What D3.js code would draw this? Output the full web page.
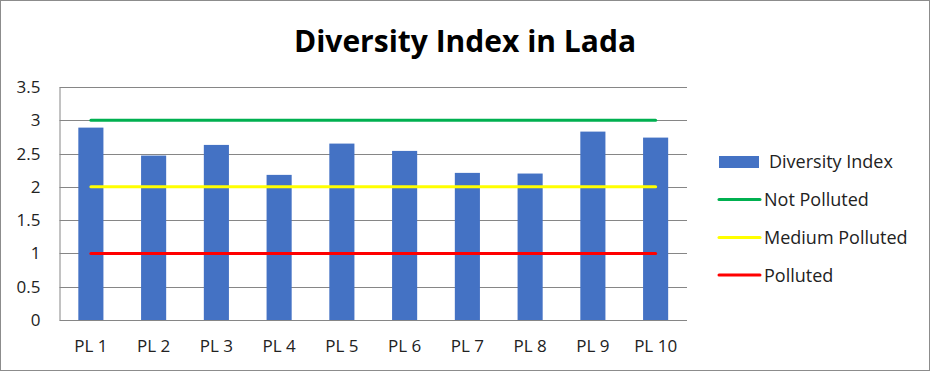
<!DOCTYPE html>
<html>
<head>
<meta charset="utf-8">
<script src="https://cdn.jsdelivr.net/npm/d3@7"></script>
<style>
  html, body { margin: 0; padding: 0; background: #fff; }
  svg { display: block; font-family: "Open Sans", "Noto Sans", sans-serif; }
</style>
</head>
<body>
<svg id="chart" width="932" height="373"></svg>
<script>
// Data
const sites = ['PL 1', 'PL 2', 'PL 3', 'PL 4', 'PL 5', 'PL 6', 'PL 7', 'PL 8', 'PL 9', 'PL 10']
const diversity = [2.89, 2.47, 2.63, 2.18, 2.65, 2.54, 2.21, 2.20, 2.83, 2.74]
const thresholdNames = ['Not Polluted', 'Medium Polluted', 'Polluted']
const thresholdValues = [3, 2, 1]
const thresholdColors = ['#00b050', '#ffff00', '#ff0000']
const yTicks = [0, 0.5, 1, 1.5, 2, 2.5, 3, 3.5]

const W = 932, H = 373
const plot = { left: 59.5, right: 687, top: 87, bottom: 320 }
const BAR_COLOR = '#4472c4'
const GRID = '#868686'

const svg = d3.select('#chart')

// Outer frame
svg.append('rect')
    .attr('x', 0.5).attr('y', 0.5)
    .attr('width', 929).attr('height', 370)
    .attr('fill', '#fff')
    .attr('stroke', '#8c8c8c')
    .attr('stroke-width', 1)

const x = d3.scaleBand()
    .domain(sites)
    .range([plot.left, plot.right])
    .paddingInner(0.6)
    .paddingOuter(0.3)

const y = d3.scaleLinear()
    .domain([0, 3.5])
    .range([plot.bottom, plot.top])

// Title
svg.append('text')
    .attr('x', 465)
    .attr('y', 52)
    .attr('text-anchor', 'middle')
    .style('font-size', '30px')
    .style('font-weight', 'bold')
    .style('fill', '#000')
    .text('Diversity Index in Lada')

// Gridlines
svg.append('g')
    .selectAll('line')
    .data(yTicks)
    .join('line')
    .attr('x1', plot.left)
    .attr('x2', plot.right)
    .attr('y1', d => Math.round(y(d)) + 0.5)
    .attr('y2', d => Math.round(y(d)) + 0.5)
    .attr('stroke', GRID)
    .attr('stroke-width', 1)

// Y axis
const yAxis = svg.append('g')
    .attr('transform', `translate(${plot.left},0)`)
    .call(d3.axisLeft(y).tickValues(yTicks).tickSize(0).tickPadding(19).tickFormat(d3.format('')))
yAxis.select('.domain').attr('stroke', GRID)
yAxis.selectAll('text')
    .style('font-size', '17px')
    .style('font-family', '"Open Sans", "Noto Sans", sans-serif')
    .style('fill', '#222')

// Bars
svg.append('g')
    .selectAll('rect')
    .data(diversity)
    .join('rect')
    .attr('x', (d, i) => x(sites[i]))
    .attr('y', d => y(d))
    .attr('width', x.bandwidth())
    .attr('height', d => y(0) - y(d))
    .attr('fill', BAR_COLOR)

// Threshold lines: from first to last category center
const xc = s => x(s) + x.bandwidth() / 2
svg.append('g')
    .selectAll('line')
    .data(thresholdValues)
    .join('line')
    .attr('x1', xc(sites[0]))
    .attr('x2', xc(sites[sites.length - 1]))
    .attr('y1', d => y(d))
    .attr('y2', d => y(d))
    .attr('stroke', (d, i) => thresholdColors[i])
    .attr('stroke-width', 3)
    .attr('stroke-linecap', 'round')

// X axis labels
const xAxis = svg.append('g')
    .attr('transform', `translate(0,${plot.bottom})`)
    .call(d3.axisBottom(x).tickSize(0).tickPadding(20))
xAxis.select('.domain').remove()
xAxis.selectAll('text')
    .style('font-size', '17px')
    .style('font-family', '"Open Sans", "Noto Sans", sans-serif')
    .style('fill', '#222')

// Legend
const legend = svg.append('g')
legend.append('rect')
    .attr('x', 719).attr('y', 156)
    .attr('width', 40).attr('height', 12)
    .attr('fill', BAR_COLOR)
legend.append('text')
    .attr('x', 769).attr('y', 168)
    .style('font-size', '18px')
    .style('fill', '#222')
    .text('Diversity Index')

const legendY = [199.5, 237.5, 275]
thresholdNames.forEach((name, i) => {
    legend.append('line')
        .attr('x1', 719).attr('x2', 760)
        .attr('y1', legendY[i]).attr('y2', legendY[i])
        .attr('stroke', thresholdColors[i])
        .attr('stroke-width', 3)
        .attr('stroke-linecap', 'round')
    legend.append('text')
        .attr('x', 764).attr('y', legendY[i] + 6.5)
        .style('font-size', '18px')
        .style('fill', '#222')
        .text(name)
})
</script>
</body>
</html>
